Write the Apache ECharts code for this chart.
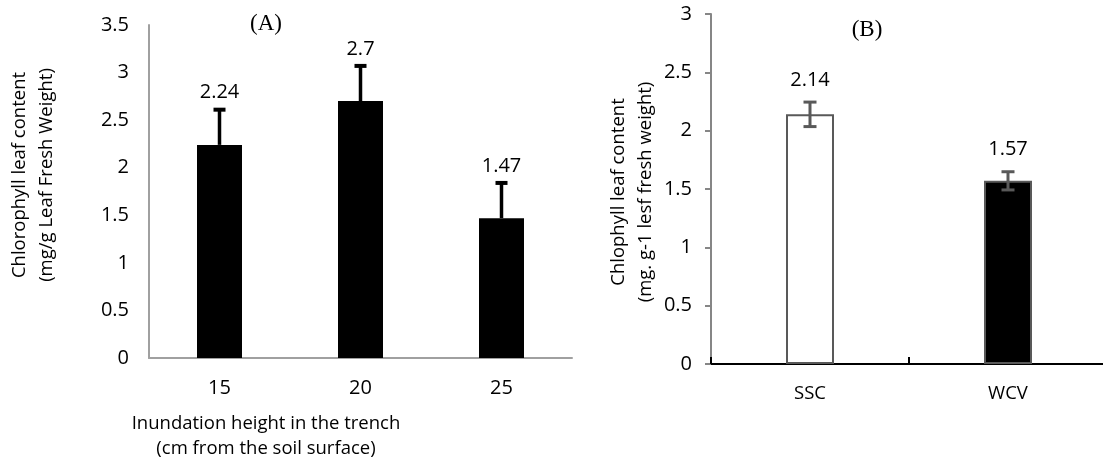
<!DOCTYPE html>
<html>
<head>
<meta charset="utf-8">
<title>Chlorophyll leaf content</title>
<script src="https://cdn.jsdelivr.net/npm/echarts@6/dist/echarts.min.js"></script>
</head>
<body style="margin:0;background:#fff;">
<div id="main" style="width:1103px;height:461px;"></div>
<script>
// (A) inundation height
var heightsA = ['15', '20', '25'];
var chlA = [2.24, 2.7, 1.47];
var seA = [0.37, 0.37, 0.37];

// (B) cultivars
var cultivarsB = ['SSC', 'WCV'];
var chlB = [2.14, 1.57];
var seB = [0.105, 0.078];
var fillB = ['#ffffff', '#000000'];

var FONT = 'Open Sans';

var myChart = echarts.init(document.getElementById('main'));

// error bar + value label, drawn through the axes
function errorBar(color, stemW, capW, capH, gap, both) {
    return function (params, api) {
        var i = api.value(0), v = api.value(1), e = api.value(2);
        var top = api.coord([i, v + e]);
        var bot = api.coord([i, both ? v - e : v]);
        var h = capW / 2;
        var kids = [
            {type: 'line', shape: {x1: top[0], y1: top[1], x2: bot[0], y2: bot[1]},
             style: {stroke: color, lineWidth: stemW}},
            {type: 'line', shape: {x1: top[0] - h, y1: top[1], x2: top[0] + h, y2: top[1]},
             style: {stroke: color, lineWidth: capH}}
        ];
        if (both) {
            kids.push({type: 'line', shape: {x1: bot[0] - h, y1: bot[1], x2: bot[0] + h, y2: bot[1]},
                       style: {stroke: color, lineWidth: capH}});
        }
        kids.push({type: 'text', x: top[0], y: top[1] - gap,
                   style: {text: String(v), fill: '#000', font: '20px "' + FONT + '"',
                           align: 'center', verticalAlign: 'middle'}});
        return {type: 'group', children: kids};
    };
}

var option = {
    animation: false,
    textStyle: {fontFamily: FONT},
    title: [
        {text: '(A)', left: 266, top: 12, textAlign: 'center', padding: 0,
         textStyle: {fontFamily: 'Liberation Serif', fontSize: 23, fontWeight: 'normal', color: '#000'}},
        {text: '(B)', left: 867, top: 18, textAlign: 'center', padding: 0,
         textStyle: {fontFamily: 'Liberation Serif', fontSize: 23, fontWeight: 'normal', color: '#000'}}
    ],
    grid: [
        {left: 149, top: 25, width: 423, height: 333, outerBoundsMode: 'none'},
        {left: 711, top: 14, width: 396, height: 350, outerBoundsMode: 'none'}
    ],
    xAxis: [
        {
            gridIndex: 0, type: 'category', data: heightsA,
            axisLine: {lineStyle: {color: '#a0a0a0', width: 2}},
            axisTick: {show: false},
            axisLabel: {margin: 20, fontSize: 20, color: '#000'},
            name: 'Inundation height in the trench\n(cm from the soil surface)',
            nameLocation: 'middle', nameGap: 53,
            nameTextStyle: {fontSize: 18.5, lineHeight: 25, color: '#000', padding: [0, 189, 0, 0]}
        },
        {
            gridIndex: 1, type: 'category', data: cultivarsB,
            axisLine: {lineStyle: {color: '#000', width: 2}},
            axisTick: {show: true, inside: true, length: 7, lineStyle: {color: '#000', width: 2}},
            axisLabel: {margin: 20, fontSize: 18.5, color: '#000'}
        }
    ],
    yAxis: [
        {
            gridIndex: 0, type: 'value', min: 0, max: 3.5, interval: 0.5,
            axisLine: {show: true, lineStyle: {color: '#a0a0a0', width: 2}},
            axisTick: {show: false},
            splitLine: {show: false},
            axisLabel: {margin: 20, fontSize: 20, color: '#000'},
            name: 'Chlorophyll leaf content\n(mg/g Leaf Fresh Weight)',
            nameLocation: 'middle', nameGap: 89,
            nameTextStyle: {fontSize: 18.5, lineHeight: 27, color: '#000', padding: [0, 0, 0, 33]}
        },
        {
            gridIndex: 1, type: 'value', min: 0, max: 3, interval: 0.5,
            axisLine: {show: true, lineStyle: {color: '#868686', width: 2}},
            axisTick: {show: true, length: 6, lineStyle: {color: '#868686', width: 2}},
            splitLine: {show: false},
            axisLabel: {margin: 19, fontSize: 20, color: '#000'},
            name: 'Chlophyll leaf content\n(mg. g-1 lesf fresh weight)',
            nameLocation: 'middle', nameGap: 52,
            nameTextStyle: {fontSize: 18.5, lineHeight: 27, color: '#000', padding: [0, 6, 0, 0]}
        }
    ],
    series: [
        {
            type: 'bar', xAxisIndex: 0, yAxisIndex: 0, barWidth: 45,
            data: chlA, itemStyle: {color: '#000'}
        },
        {
            type: 'custom', xAxisIndex: 0, yAxisIndex: 0, z: 5,
            renderItem: errorBar('#000', 3.5, 12, 4, 17, false),
            data: chlA.map(function (v, i) { return [i, v, seA[i]]; })
        },
        {
            type: 'bar', xAxisIndex: 1, yAxisIndex: 1, barWidth: 48,
            data: chlB.map(function (v, i) {
                return {value: v, itemStyle: {color: fillB[i], borderColor: '#595959', borderWidth: 2}};
            })
        },
        {
            type: 'custom', xAxisIndex: 1, yAxisIndex: 1, z: 5,
            renderItem: errorBar('#595959', 3, 13, 3, 22, true),
            data: chlB.map(function (v, i) { return [i, v, seB[i]]; })
        }
    ]
};

myChart.setOption(option);
</script>
</body>
</html>
